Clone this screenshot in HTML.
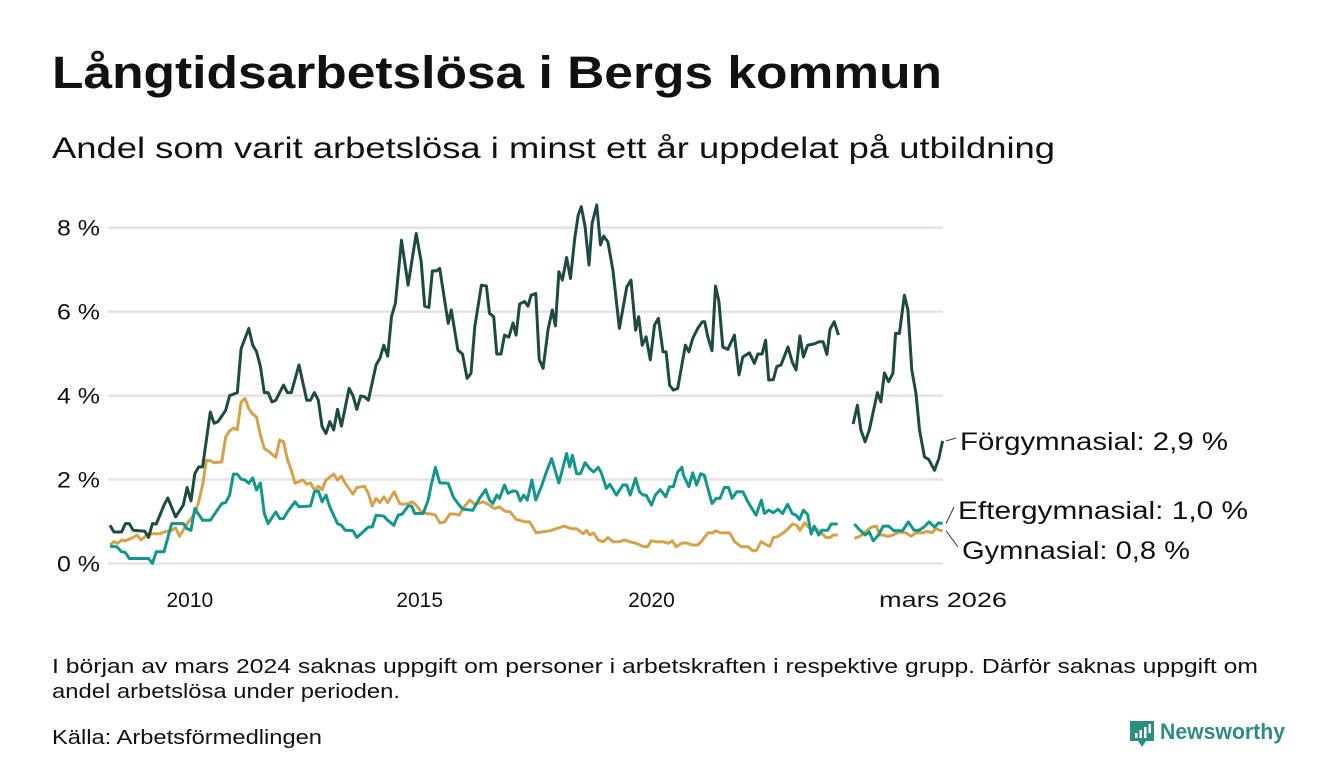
<!DOCTYPE html>
<html><head><meta charset="utf-8"><style>
html,body{margin:0;padding:0;background:#fff;}
svg{display:block;font-family:"Liberation Sans",sans-serif;}
</style></head><body>
<svg id="chart" width="1340" height="780" viewBox="0 0 1340 780" xmlns="http://www.w3.org/2000/svg">
<text x="52" y="88" font-size="45" font-weight="bold" fill="#111" textLength="890" lengthAdjust="spacingAndGlyphs">Långtidsarbetslösa i Bergs kommun</text>
<text x="52" y="158" font-size="30" fill="#111" textLength="1003" lengthAdjust="spacingAndGlyphs">Andel som varit arbetslösa i minst ett år uppdelat på utbildning</text>
<g id="grid"></g>
<g id="yticks"></g>
<g id="xticks"></g>
<g id="series"></g>
<g id="labels"></g>
<text x="52" y="673" font-size="20" fill="#111" textLength="1206" lengthAdjust="spacingAndGlyphs">I början av mars 2024 saknas uppgift om personer i arbetskraften i respektive grupp. Därför saknas uppgift om</text>
<text x="52" y="698" font-size="20" fill="#111" textLength="348" lengthAdjust="spacingAndGlyphs">andel arbetslösa under perioden.</text>
<text x="52" y="744" font-size="20" fill="#111" textLength="270" lengthAdjust="spacingAndGlyphs">Källa: Arbetsförmedlingen</text>
<g>
<path d="M1130 721 h24 v20 h-8 l-4 6 l-4 -6 h-8 z" fill="#2e8c80"/>
<rect x="1135" y="733" width="2.5" height="5" fill="#fff"/><rect x="1139.5" y="730" width="2.5" height="8" fill="#fff"/><rect x="1144" y="727" width="2.5" height="11" fill="#fff"/><rect x="1148.5" y="724" width="2.5" height="9" fill="#fff"/>
<text x="1160" y="739" font-size="22" font-weight="bold" fill="#2e8c80" textLength="125" lengthAdjust="spacingAndGlyphs">Newsworthy</text>
</g>
</svg>
<script>
// months since April 2008
const darkMonths=[0,1,3,4,5,6,9,10,11,12,14,15,17,19,20,21,22,23,24,26,27,28,30,31,33,34,36,37,38,39,40,41,42,43,45,46,47,49,51,52,53,54,55,56,57,58,59,60,62,63,64,65,66,67,69,70,71,72,73,74,75.6,77.3,79.4,80.7,81.6,82.7,83.6,84.6,85.5,87.7,88.5,90.2,91.4,92.6,93.6,94.6,96.3,97.6,98.4,99.5,100.3,101.4,102.3,103.4,104.5,105.3,106.2,107.5,108.4,109.2,110.4,111.3,112.3,113.6,114.7,115.5,116.4,117.3,118.4,119.4,120.5,121.4,122.2,123.2,124.2,125,126.2,127.2,128,129.1,130.4,132.1,134,135.1,136.3,137.1,138,139,140.1,141.2,142.2,143.4,144.2,145.1,146.1,147.2,149.2,150.1,151.1,152.4,153.6,154.2,155,156.1,157,157.9,158.9,160.2,161.9,163.1,164.1,165.8,167.1,168,169.1,170,170.8,172,172.9,174,175.8,176.9,177.9,178.9,179.8,180.9,182.6,183.9,184.9,185.9,186.7,187.8,188.9,190.5,192.7,193.8,194.7,195.8,196.9,199,199.9,200.8,201.9,203,203.7,204.7,206,206.9,207.9,209,209.9,211.2,212.3,213.8,214.9,215.9];
const darkValues=[0.91,0.75,0.75,0.95,0.95,0.79,0.77,0.62,0.95,0.94,1.39,1.56,1.11,1.39,1.81,1.49,2.14,2.3,2.3,3.61,3.34,3.38,3.65,4.0,4.07,5.12,5.6,5.2,5.05,4.69,4.07,4.07,3.85,3.89,4.25,4.07,4.07,4.73,3.89,3.89,4.07,3.89,3.26,3.1,3.38,3.18,3.67,3.27,4.17,4.0,3.67,3.99,3.97,3.89,4.73,4.89,5.2,4.94,5.88,6.2,7.7,6.63,7.86,7.19,6.13,6.1,6.97,6.97,7.03,5.72,6.04,5.08,4.99,4.41,4.53,5.64,6.63,6.61,5.96,5.88,4.99,4.99,5.44,5.39,5.73,5.44,6.18,6.24,6.13,6.39,6.43,4.86,4.65,5.58,6.04,5.66,6.95,6.75,7.29,6.79,7.74,8.3,8.5,8.02,7.11,8.1,8.54,7.59,7.8,7.66,6.99,5.6,6.59,6.75,5.56,5.88,5.2,5.4,4.85,5.68,5.84,5.04,5.04,4.25,4.13,4.17,5.2,5.04,5.36,5.6,5.76,5.76,5.4,5.07,6.61,6.24,5.16,5.1,5.44,4.49,4.92,5.02,4.77,4.99,4.99,5.32,4.37,4.38,4.69,4.73,5.16,4.8,4.61,5.42,4.92,5.2,5.23,5.28,5.28,4.98,5.58,5.76,5.44,null,3.32,3.77,3.18,2.9,3.18,4.07,3.85,4.54,4.33,4.53,5.48,5.48,6.39,6.04,4.61,4.05,3.18,2.54,2.48,2.22,2.5,2.92];
const tealMonths=[0,1.7,3,4,5,10,11,12,14,16,19,20,21,22,24,26,29,30,31,32,33,34,35,36,37,38,39,40,41,43,44,45,46,48,49,52,53,54,55,56,57,59,60,61,63,64,67,68,69,71,72,73.6,74.7,75.8,77.3,78.2,79,81.2,82.5,83.3,84.4,85.5,87.7,89,90.2,91.5,94.1,95.8,97.4,98.4,99.3,100.3,101,102.3,103.2,104.5,105.5,106.4,107.3,108.2,109.4,110.4,111.9,113,114.5,115.7,116.4,117.5,118.4,119.2,119.9,121,122,123.2,124.4,125.4,126.6,127.4,128.7,129.6,131.3,133,134,134.9,136.3,137.3,138.2,139,140.4,141.4,142.7,144.1,145.1,146.1,147.2,148.3,148.7,150.1,151.1,152.1,153.2,154.1,156.1,157.2,158.2,159.3,160.4,161.3,162.5,164.1,165.4,167.5,168.9,169.7,170.8,172,173.2,174.4,175.7,176.9,177.9,178.8,179.8,180.9,181.8,182.6,183.8,184.6,186.1,187,188.7,190.5,193,194.3,195.8,196.9,197.9,199.3,200.5,201.9,203.3,205.5,207,208.5,209.8,211.1,212.4,213.8,214.9,215.9];
const tealValues=[0.41,0.4,0.28,0.26,0.12,0.12,0.0,0.28,0.28,0.95,0.95,0.83,0.79,1.31,1.03,1.03,1.43,1.45,1.63,2.13,2.13,2.01,1.99,1.91,2.04,1.75,1.92,1.19,0.95,1.23,1.07,1.07,1.23,1.47,1.35,1.37,1.71,1.73,1.47,1.63,1.35,0.95,0.91,0.79,0.78,0.62,0.87,0.87,1.15,1.13,1.03,0.91,1.15,1.18,1.37,1.37,1.19,1.19,1.51,1.87,2.29,1.92,1.91,1.59,1.43,1.29,1.27,1.55,1.76,1.51,1.43,1.63,1.55,1.87,1.67,1.73,1.71,1.49,1.63,1.51,1.99,1.51,1.84,2.14,2.5,2.13,1.92,2.3,2.62,2.3,2.58,2.14,2.14,2.4,2.26,2.18,2.29,2.16,1.79,1.89,1.63,1.87,1.87,1.63,2.03,1.71,1.63,1.63,1.39,1.63,1.76,1.59,1.83,1.83,2.18,2.29,2.1,1.83,2.16,1.87,2.14,2.1,1.43,1.55,1.55,1.81,1.81,1.55,1.71,1.71,1.47,1.15,1.51,1.19,1.27,1.21,1.29,1.19,1.41,1.19,1.15,1.05,1.27,1.17,0.7,0.89,0.68,0.79,0.79,0.94,0.94,null,0.94,0.81,0.68,0.75,0.54,0.68,0.89,0.89,0.78,0.78,0.99,0.79,0.79,0.87,0.99,0.87,0.97,0.95];
const goldMonths=[0,1,2,3,4,6,7,8,10,11,13,14,15,16,17,18,19,20,22,23,24,25,26,27,29,30,31,32,33,34,35,36,37,38,39,40,41,43,44,45,46,47,48,50,51,52,53,54,55,56,58,59,60,61,63,64,66,67,68,69,70,71,72,73.7,75.1,75.9,77.3,78.4,79.4,80.7,82,83.3,84.4,85.5,86.8,88.1,89.4,90.5,92,93.3,94.6,96.8,98.4,99.7,101,102.3,103.8,105.3,106.6,107.9,108.8,110.5,111.9,114,115.7,117.9,119.6,121,122.7,123.6,124.4,125.4,126.6,127.9,129.1,130.4,132.1,133.4,134.7,136.4,138.1,139.4,140.3,141.6,143.4,144.7,145.8,146.8,148.2,149.4,151.1,152.4,153.3,155,156.3,157,158.5,160.7,162,163.7,165.4,166.7,167.7,168.8,170.3,171.1,172,173.2,174.9,176.2,177,178.1,178.9,180.1,180.9,182.1,183.2,184.4,185.7,186.7,187.6,188.7,190.5,193,194.3,195.6,196.8,197.6,198.8,199.5,200.5,201.7,203,204.7,206.4,207.7,209,210.7,212,213.1,214.2,215.2,215.9];
const goldValues=[0.44,0.52,0.48,0.56,0.54,0.62,0.68,0.56,0.7,0.71,0.71,0.75,0.77,0.79,0.85,0.65,0.79,0.95,1.19,1.47,1.87,2.46,2.45,2.4,2.42,3.02,3.16,3.22,3.19,3.85,3.93,3.69,3.56,3.49,3.06,2.74,2.68,2.53,2.94,2.9,2.48,2.22,1.91,1.99,1.89,1.92,1.75,1.84,1.76,1.99,2.13,1.99,2.08,1.91,1.65,1.81,1.84,1.67,1.37,1.55,1.45,1.59,1.45,1.71,1.43,1.41,1.43,1.47,1.39,1.23,1.19,1.18,1.15,0.97,0.99,1.18,1.18,1.15,1.37,1.51,1.41,1.47,1.39,1.31,1.35,1.25,1.23,1.05,1.02,0.99,0.99,0.73,0.75,0.78,0.83,0.89,0.83,0.83,0.71,0.79,0.68,0.73,0.56,0.52,0.62,0.52,0.52,0.56,0.52,0.48,0.41,0.4,0.54,0.52,0.52,0.48,0.54,0.4,0.48,0.49,0.44,0.44,0.52,0.73,0.73,0.78,0.73,0.73,0.52,0.4,0.4,0.3,0.32,0.52,0.44,0.41,0.62,0.64,0.75,0.86,0.94,0.91,0.79,0.97,0.89,0.79,0.81,0.73,0.62,0.62,0.68,0.68,null,0.6,0.64,0.73,0.83,0.87,0.89,0.68,0.68,0.64,0.68,0.75,0.73,0.65,0.73,0.73,0.77,0.73,0.83,0.79,0.78];
const yTicks=[0,2,4,6,8];
const yTickLabels=["0 %","2 %","4 %","6 %","8 %"];
const xTickMonths=[20.7,80.3,140.4,216];
const xTickLabels=["2010","2015","2020","mars 2026"];

const NS="http://www.w3.org/2000/svg";
function xs(m){return 110+m*(943-110)/216;}
function ys(v){return 563.5-v*41.98;}
function mk(tag,attrs,parent){const e=document.createElementNS(NS,tag);for(const k in attrs)e.setAttribute(k,attrs[k]);parent.appendChild(e);return e;}

const grid=document.getElementById('grid'),yt=document.getElementById('yticks'),xt=document.getElementById('xticks');
yTicks.forEach((v,i)=>{
  const l=mk('line',{x1:108,x2:943,y1:ys(v),y2:ys(v),stroke:'#e3e2e8','stroke-width':2.5},grid);
  
  
  const t=mk('text',{x:100,y:ys(v)+8,'text-anchor':'end','font-size':22,fill:'#111',textLength:43,lengthAdjust:'spacingAndGlyphs'},yt);
  t.textContent=yTickLabels[i];
  
  
});
xTickMonths.forEach((m,i)=>{
  const lbl=xTickLabels[i];
  const attrs={x:xs(m),y:607,'text-anchor':'middle','font-size':21,fill:'#111'};
  if(lbl.length>4){attrs.textLength=128;attrs.lengthAdjust='spacingAndGlyphs';}
  const t=mk('text',attrs,xt);
  t.textContent=lbl;
  
  
});
function pathFor(ms,vs){let d='',pen=false;for(let i=0;i<ms.length;i++){if(vs[i]===null){pen=false;continue;}d+=(pen?'L':'M')+xs(ms[i]).toFixed(1)+' '+ys(vs[i]).toFixed(1)+' ';pen=true;}return d;}
const sg=document.getElementById('series');
const specs=[[goldMonths,goldValues,'#d4a24c','line-gymnasial'],[tealMonths,tealValues,'#14968a','line-eftergymnasial'],[darkMonths,darkValues,'#1f4a41','line-forgymnasial']];
specs.forEach(s=>{
  const p=mk('path',{d:pathFor(s[0],s[1]),fill:'none',stroke:s[2],'stroke-width':3,'stroke-linejoin':'round'},sg);
  
  
});
const lg=document.getElementById('labels');
function last(vs){for(let i=vs.length-1;i>=0;i--)if(vs[i]!==null)return vs[i];}
const lab=[[darkValues,'Förgymnasial: 2,9 %',441,960,268],[tealValues,'Eftergymnasial: 1,0 %',510,958,290],[goldValues,'Gymnasial: 0,8 %',550,962,228]];
lab.forEach(L=>{
  const y0=ys(last(L[0]));
  const ln=mk('line',{x1:946,y1:y0,x2:L[3]-4,y2:L[2]-3,stroke:'#333','stroke-width':1},lg);
  
  
  const t=mk('text',{x:L[3],y:L[2]+9,'font-size':25,fill:'#111',textLength:L[4],lengthAdjust:'spacingAndGlyphs'},lg);
  t.textContent=L[1];
  
  
});
</script>
</body></html>
